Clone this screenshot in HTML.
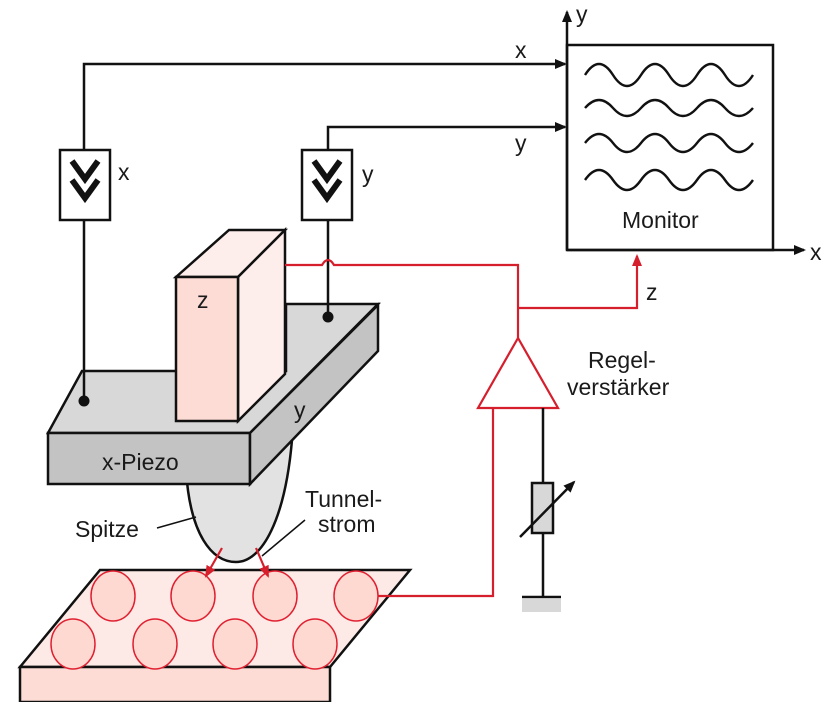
<!DOCTYPE html>
<html><head><meta charset="utf-8"><style>
body{margin:0;background:#fff}
svg{display:block}
text{font-family:"Liberation Sans",sans-serif;font-size:23px;fill:#1a1a1a}
</style></head><body>
<svg width="833" height="702" viewBox="0 0 833 702">
<defs>
<marker id="ab" markerWidth="12" markerHeight="12" refX="10" refY="5" orient="auto" markerUnits="userSpaceOnUse"><path d="M0,0 L12,5 L0,10 z" fill="#111"/></marker>
<marker id="ar" markerWidth="12" markerHeight="12" refX="10" refY="5" orient="auto" markerUnits="userSpaceOnUse"><path d="M0,0 L12,5 L0,10 z" fill="#d51f2c"/></marker>
</defs>
<g stroke="#111" stroke-width="2.5">
<polygon points="100,570 410,570 330,667 20,667" fill="#fdeae6"/>
<polygon points="20,667 330,667 330,702 20,702" fill="#fcdcd5"/>
</g>
<g fill="#fdd9d1" stroke="#e02030" stroke-width="1.5">
<ellipse cx="113" cy="596" rx="22" ry="25"/><ellipse cx="193" cy="596" rx="22" ry="25"/><ellipse cx="275" cy="596" rx="22" ry="25"/><ellipse cx="356" cy="596" rx="22" ry="25"/>
<ellipse cx="73" cy="644" rx="22" ry="25"/><ellipse cx="155" cy="644" rx="22" ry="25"/><ellipse cx="235" cy="644" rx="22" ry="25"/><ellipse cx="315" cy="644" rx="22" ry="25"/>
</g>
<path d="M186,470 C190,535 212,562 236,562 C262,562 285,520 292,440 L186,440 z" fill="#e2e2e2" stroke="#111" stroke-width="2.5"/>
<g stroke="#111" stroke-width="2.5">
<polygon points="82,371 286,371 286,304 378,304 250,433 48,433" fill="#d8d8d8"/>
<polygon points="48,433 250,433 250,484 48,484" fill="#c2c3c2"/>
<polygon points="250,433 378,305 378,351 250,484" fill="#c2c3c2"/>
</g>
<g stroke="#111" stroke-width="2.5">
<polygon points="176,277 229,230 285,230 238,277" fill="#fdeeeb"/>
<polygon points="238,277 285,230 285,374 238,421" fill="#fdeeeb"/>
<rect x="176" y="277" width="62" height="144" fill="#fddcd5"/>
</g>
<text x="197" y="308">z</text>
<text x="294" y="418">y</text>
<text x="102" y="470">x-Piezo</text>
<g stroke="#111" stroke-width="2.5" fill="none">
<polyline points="84,401 84,220"/>
<polyline points="84,150 84,64 565,64" marker-end="url(#ab)"/>
<polyline points="328,317 328,220"/>
<polyline points="328,150 328,127 565,127" marker-end="url(#ab)"/>
</g>
<circle cx="84" cy="401" r="5.5" fill="#111"/><circle cx="328" cy="317" r="5.5" fill="#111"/>
<g>
<rect x="60" y="150" width="50" height="70" fill="#fff" stroke="#111" stroke-width="2.5"/>
<path d="M72,161 L85,179 L98,161 M72,180 L85,198 L98,180" stroke="#111" stroke-width="6" fill="none"/>
</g>
<g>
<rect x="302" y="150" width="50" height="70" fill="#fff" stroke="#111" stroke-width="2.5"/>
<path d="M314,161 L327,179 L340,161 M314,180 L327,198 L340,180" stroke="#111" stroke-width="6" fill="none"/>
</g>
<text x="118" y="180">x</text><text x="362" y="182">y</text>
<text x="515" y="58">x</text><text x="515" y="151">y</text>
<g>
<rect x="567" y="45" width="206" height="205" fill="#fff" stroke="#111" stroke-width="2.5"/>
<line x1="567" y1="250" x2="567" y2="12" stroke="#111" stroke-width="2.5" marker-end="url(#ab)"/>
<line x1="567" y1="250" x2="804" y2="250" stroke="#111" stroke-width="2.5" marker-end="url(#ab)"/>
<g stroke="#111" stroke-width="2.4" fill="none">
<path d="M585,75 q14,-22 28,0 t28,0 t28,0 t28,0 t28,0 t28,0"/>
<path d="M585,108 q14,-16 28,0 t28,0 t28,0 t28,0 t28,0 t28,0"/>
<path d="M585,143 q14,-18 28,0 t28,0 t28,0 t28,0 t28,0 t28,0"/>
<path d="M585,180 q14,-20 28,0 t28,0 t28,0 t28,0 t28,0 t28,0"/>
</g>
<text x="622" y="228">Monitor</text>
</g>
<text x="576" y="22">y</text><text x="810" y="260">x</text>
<g stroke="#d51f2c" stroke-width="2.2" fill="none">
<path d="M285,265 L322,265 Q328,255 334,265 L518,265 L518,338"/>
<polyline points="518,308 637,308 637,256" marker-end="url(#ar)"/>
<polyline points="493,408 493,596 378,596"/>
<line x1="222" y1="548" x2="206" y2="576" marker-end="url(#ar)"/>
<line x1="256" y1="548" x2="268" y2="576" marker-end="url(#ar)"/>
</g>
<polygon points="518,338 478,408 558,408" fill="#fff" stroke="#d51f2c" stroke-width="2.2"/>
<text x="646" y="300">z</text>
<text x="588" y="368">Regel-</text><text x="567" y="395">verstärker</text>
<g stroke="#111" stroke-width="2.5">
<line x1="543" y1="408" x2="543" y2="597"/>
<rect x="532" y="483" width="21" height="50" fill="#d8d8d8"/>
<line x1="522" y1="597" x2="561" y2="597"/>
<line x1="520" y1="537" x2="574" y2="482" marker-end="url(#ab)"/>
</g>
<rect x="522" y="599" width="39" height="13" fill="#d8d8d8"/>
<text x="75" y="537">Spitze</text>
<line x1="157" y1="528" x2="196" y2="517" stroke="#111" stroke-width="1.5"/>
<text x="305" y="507">Tunnel-</text><text x="318" y="532">strom</text>
<line x1="305" y1="520" x2="262" y2="556" stroke="#111" stroke-width="1.5"/>
</svg>
</body></html>
